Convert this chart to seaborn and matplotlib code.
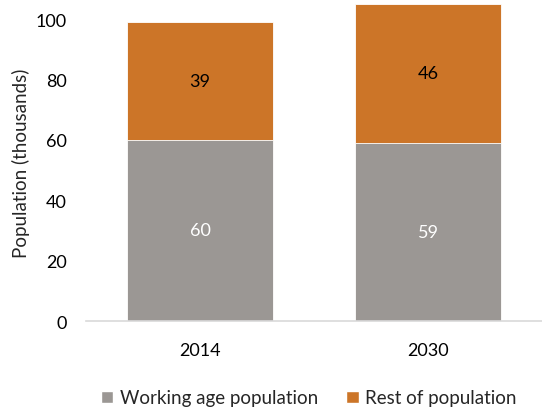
import matplotlib
matplotlib.use("Agg")
import matplotlib.pyplot as plt
import seaborn as sns
import pandas as pd
from matplotlib.patches import Patch

years = ["2014", "2030"]
working_age = [60, 59]
rest = [39, 46]

sns.set_theme(style="white")
plt.rcParams["font.family"] = ["Lato", "DejaVu Sans"]

df = pd.DataFrame({"year": years, "working": working_age, "rest": rest})
df["total"] = df["working"] + df["rest"]

GRAY = "#9b9794"
ORANGE = "#cc7528"

fig = plt.figure(figsize=(5.42, 4.14), dpi=100)
ax = fig.add_axes([0.159, 0.222, 0.841, 0.766])

# full stack first (orange), then the working-age part over it (gray)
sns.barplot(data=df, x="year", y="total", color=ORANGE, width=0.64,
            saturation=1, ax=ax, edgecolor="white", linewidth=0.6)
top_bars = list(ax.patches)
sns.barplot(data=df, x="year", y="working", color=GRAY, width=0.64,
            saturation=1, ax=ax, edgecolor="white", linewidth=0.6)
low_bars = [p for p in ax.patches if p not in top_bars]

# value labels centred in each segment
for p, v in zip(top_bars, df["rest"]):
    y = p.get_height() - v / 2
    ax.text(p.get_x() + p.get_width() / 2, y, f"{v}", ha="center", va="center",
            color="black", fontsize=13)
for p, v in zip(low_bars, df["working"]):
    ax.text(p.get_x() + p.get_width() / 2, v / 2, f"{v}", ha="center", va="center",
            color="white", fontsize=13)

ax.set_ylim(0, 105)
ax.set_xlim(-0.5, 1.5)
ax.set_yticks([0, 20, 40, 60, 80, 100])
ax.tick_params(axis="both", length=0, labelsize=13, colors="black")
ax.tick_params(axis="x", pad=15)
ax.tick_params(axis="y", pad=14)
ax.set_xlabel("")
ax.set_ylabel("Population (thousands)", fontsize=13.5, labelpad=4)

for s in ["top", "right", "left"]:
    ax.spines[s].set_visible(False)
ax.spines["bottom"].set_color("#d9d9d9")
ax.spines["bottom"].set_linewidth(1.2)

handles = [Patch(facecolor=GRAY, label="Working age population"),
           Patch(facecolor=ORANGE, label="Rest of population")]
fig.legend(handles=handles, loc="lower center", bbox_to_anchor=(0.57, -0.025),
           ncol=2, frameon=False, fontsize=13.5, handlelength=0.65,
           handleheight=0.65, handletextpad=0.35, columnspacing=1.5)

fig.savefig("out.png", dpi=100)
